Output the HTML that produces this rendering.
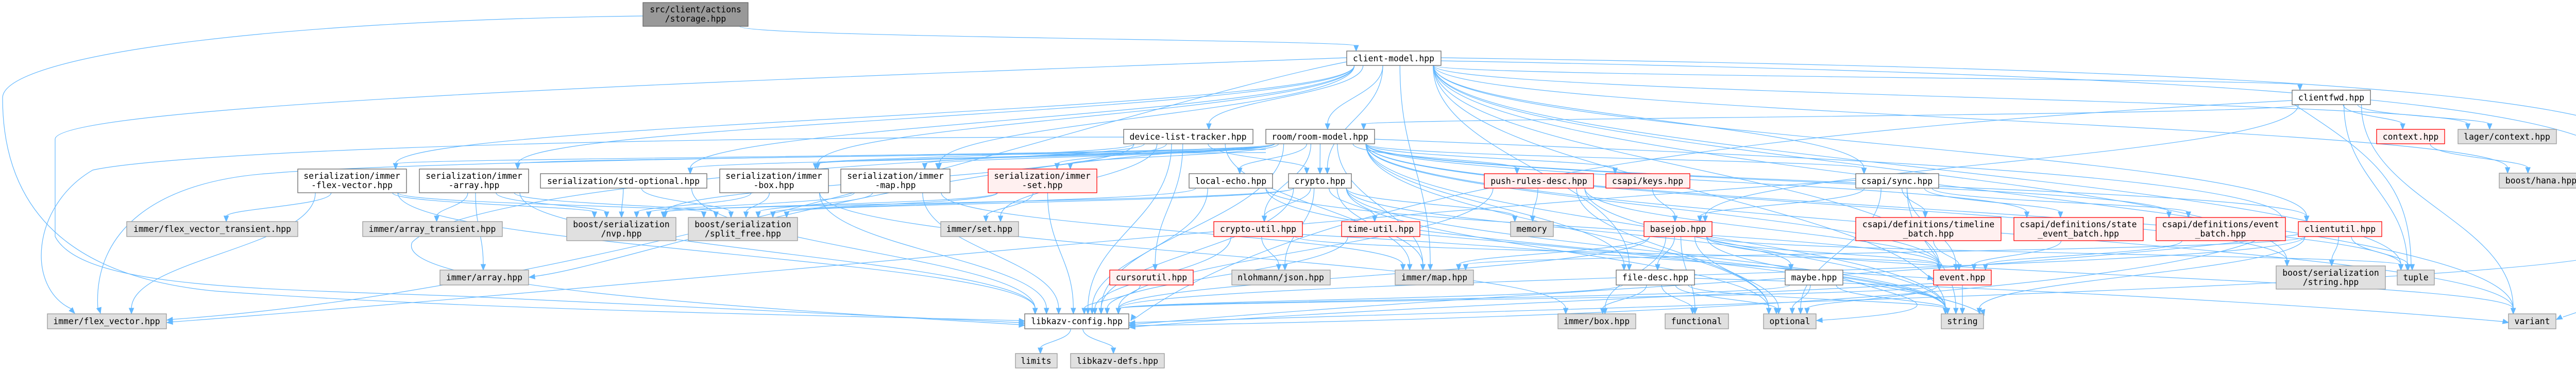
<!DOCTYPE html>
<html><head><meta charset="utf-8"><style>
html,body{margin:0;padding:0;background:#fff;}
svg{display:block;}
text{font-family:"DejaVu Sans Mono","Liberation Mono",monospace;font-size:16.4px;fill:#000;text-anchor:middle;}
</style></head><body>
<svg id="g" width="5157" height="716" xmlns="http://www.w3.org/2000/svg">
<g id="edges" fill="none" stroke="#63b8ff" stroke-width="1.2"></g>
<g id="arrows" fill="#63b8ff" stroke="#63b8ff"></g>
<g id="nodes" stroke-width="1.3">
<rect x="1248" y="5" width="204" height="46" fill="#999" stroke="#666"/><text x="1350" y="24">src/client/actions</text><text x="1350" y="42">/storage.hpp</text>
<rect x="2614" y="99" width="183" height="28" fill="#fff" stroke="#666"/><text x="2705" y="119">client-model.hpp</text>
<rect x="4449" y="175" width="152" height="28" fill="#fff" stroke="#666"/><text x="4525" y="195">clientfwd.hpp</text>
<rect x="2181" y="251" width="251" height="28" fill="#fff" stroke="#666"/><text x="2306" y="271">device-list-tracker.hpp</text>
<rect x="2457" y="251" width="211" height="28" fill="#fff" stroke="#666"/><text x="2562" y="271">room/room-model.hpp</text>
<rect x="4613" y="251" width="132" height="28" fill="#fff0f0" stroke="#f00"/><text x="4679" y="271">context.hpp</text>
<rect x="4771" y="251" width="191" height="28" fill="#e0e0e0" stroke="#999"/><text x="4866" y="271">lager/context.hpp</text>
<rect x="578" y="328" width="211" height="46" fill="#fff" stroke="#666"/><text x="683" y="347">serialization/immer</text><text x="683" y="365">-flex-vector.hpp</text>
<rect x="814" y="328" width="212" height="46" fill="#fff" stroke="#666"/><text x="920" y="347">serialization/immer</text><text x="920" y="365">-array.hpp</text>
<rect x="1049" y="337" width="323" height="28" fill="#fff" stroke="#666"/><text x="1210" y="357">serialization/std-optional.hpp</text>
<rect x="1397" y="328" width="211" height="46" fill="#fff" stroke="#666"/><text x="1502" y="347">serialization/immer</text><text x="1502" y="365">-box.hpp</text>
<rect x="1632" y="328" width="212" height="46" fill="#fff" stroke="#666"/><text x="1738" y="347">serialization/immer</text><text x="1738" y="365">-map.hpp</text>
<rect x="1918" y="328" width="211" height="46" fill="#fff0f0" stroke="#f00"/><text x="2023" y="347">serialization/immer</text><text x="2023" y="365">-set.hpp</text>
<rect x="2308" y="337" width="162" height="28" fill="#fff" stroke="#666"/><text x="2389" y="357">local-echo.hpp</text>
<rect x="2501" y="337" width="122" height="28" fill="#fff" stroke="#666"/><text x="2562" y="357">crypto.hpp</text>
<rect x="2881" y="337" width="212" height="28" fill="#fff0f0" stroke="#f00"/><text x="2987" y="357">push-rules-desc.hpp</text>
<rect x="3117" y="337" width="163" height="28" fill="#fff0f0" stroke="#f00"/><text x="3198" y="357">csapi/keys.hpp</text>
<rect x="3602" y="337" width="161" height="28" fill="#fff" stroke="#666"/><text x="3682" y="357">csapi/sync.hpp</text>
<rect x="4851" y="336" width="162" height="29" fill="#e0e0e0" stroke="#999"/><text x="4932" y="356">boost/hana.hpp</text>
<rect x="246" y="430" width="332" height="29" fill="#e0e0e0" stroke="#999"/><text x="412" y="450">immer/flex_vector_transient.hpp</text>
<rect x="704" y="430" width="271" height="29" fill="#e0e0e0" stroke="#999"/><text x="839" y="450">immer/array_transient.hpp</text>
<rect x="1100" y="422" width="212" height="45" fill="#e0e0e0" stroke="#999"/><text x="1206" y="441">boost/serialization</text><text x="1206" y="459">/nvp.hpp</text>
<rect x="1336" y="422" width="212" height="45" fill="#e0e0e0" stroke="#999"/><text x="1442" y="441">boost/serialization</text><text x="1442" y="459">/split_free.hpp</text>
<rect x="1826" y="430" width="151" height="29" fill="#e0e0e0" stroke="#999"/><text x="1901" y="450">immer/set.hpp</text>
<rect x="2356" y="430" width="172" height="29" fill="#fff0f0" stroke="#f00"/><text x="2442" y="450">crypto-util.hpp</text>
<rect x="2604" y="430" width="152" height="29" fill="#fff0f0" stroke="#f00"/><text x="2680" y="450">time-util.hpp</text>
<rect x="2932" y="430" width="83" height="29" fill="#e0e0e0" stroke="#999"/><text x="2973" y="450">memory</text>
<rect x="3191" y="430" width="132" height="29" fill="#fff0f0" stroke="#f00"/><text x="3257" y="450">basejob.hpp</text>
<rect x="3602" y="422" width="282" height="45" fill="#fff0f0" stroke="#f00"/><text x="3743" y="441">csapi/definitions/timeline</text><text x="3743" y="459">_batch.hpp</text>
<rect x="3909" y="422" width="251" height="45" fill="#fff0f0" stroke="#f00"/><text x="4034" y="441">csapi/definitions/state</text><text x="4034" y="459">_event_batch.hpp</text>
<rect x="4185" y="422" width="251" height="45" fill="#fff0f0" stroke="#f00"/><text x="4310" y="441">csapi/definitions/event</text><text x="4310" y="459">_batch.hpp</text>
<rect x="4461" y="430" width="162" height="29" fill="#fff0f0" stroke="#f00"/><text x="4542" y="450">clientutil.hpp</text>
<rect x="854" y="524" width="172" height="29" fill="#e0e0e0" stroke="#999"/><text x="940" y="544">immer/array.hpp</text>
<rect x="2154" y="524" width="162" height="29" fill="#fff0f0" stroke="#f00"/><text x="2235" y="544">cursorutil.hpp</text>
<rect x="2391" y="524" width="191" height="29" fill="#e0e0e0" stroke="#999"/><text x="2486" y="544">nlohmann/json.hpp</text>
<rect x="2708" y="524" width="152" height="29" fill="#e0e0e0" stroke="#999"/><text x="2784" y="544">immer/map.hpp</text>
<rect x="3137" y="524" width="152" height="29" fill="#fff" stroke="#666"/><text x="3213" y="544">file-desc.hpp</text>
<rect x="3465" y="524" width="112" height="29" fill="#fff" stroke="#666"/><text x="3521" y="544">maybe.hpp</text>
<rect x="3753" y="524" width="112" height="29" fill="#fff0f0" stroke="#f00"/><text x="3809" y="544">event.hpp</text>
<rect x="4418" y="516" width="212" height="45" fill="#e0e0e0" stroke="#999"/><text x="4524" y="535">boost/serialization</text><text x="4524" y="553">/string.hpp</text>
<rect x="4653" y="524" width="72" height="29" fill="#e0e0e0" stroke="#999"/><text x="4689" y="544">tuple</text>
<rect x="92" y="609" width="231" height="29" fill="#e0e0e0" stroke="#999"/><text x="207" y="629">immer/flex_vector.hpp</text>
<rect x="1989" y="609" width="202" height="29" fill="#fff" stroke="#666"/><text x="2090" y="629">libkazv-config.hpp</text>
<rect x="3024" y="609" width="151" height="29" fill="#e0e0e0" stroke="#999"/><text x="3099" y="629">immer/box.hpp</text>
<rect x="3232" y="609" width="123" height="29" fill="#e0e0e0" stroke="#999"/><text x="3293" y="629">functional</text>
<rect x="3423" y="609" width="102" height="29" fill="#e0e0e0" stroke="#999"/><text x="3474" y="629">optional</text>
<rect x="3768" y="609" width="82" height="29" fill="#e0e0e0" stroke="#999"/><text x="3809" y="629">string</text>
<rect x="4869" y="609" width="92" height="29" fill="#e0e0e0" stroke="#999"/><text x="4915" y="629">variant</text>
<rect x="1971" y="686" width="81" height="28" fill="#e0e0e0" stroke="#999"/><text x="2011" y="706">limits</text>
<rect x="2078" y="686" width="182" height="28" fill="#e0e0e0" stroke="#999"/><text x="2169" y="706">libkazv-defs.hpp</text>
</g>
</svg>
<script>
var N={root:[1248,5,1452,51],cm:[2614,99,2797,127],cfwd:[4449,175,4601,203],dlt:[2181,251,2432,279],rm:[2457,251,2668,279],ctx:[4613,251,4745,279],lctx:[4771,251,4962,279],sfv:[578,328,789,374],sar:[814,328,1026,374],sopt:[1049,337,1372,365],sbox:[1397,328,1608,374],smap:[1632,328,1844,374],sset:[1918,328,2129,374],lecho:[2308,337,2470,365],crypto:[2501,337,2623,365],prd:[2881,337,3093,365],keys:[3117,337,3280,365],sync:[3602,337,3763,365],hana:[4851,336,5013,365],ifvt:[246,430,578,459],iat:[704,430,975,459],nvp:[1100,422,1312,467],split:[1336,422,1548,467],iset:[1826,430,1977,459],cutil:[2356,430,2528,459],tutil:[2604,430,2756,459],mem:[2932,430,3015,459],bj:[3191,430,3323,459],tlb:[3602,422,3884,467],seb:[3909,422,4160,467],eb:[4185,422,4436,467],clu:[4461,430,4623,459],iarr:[854,524,1026,553],curs:[2154,524,2316,553],json:[2391,524,2582,553],imap:[2708,524,2860,553],fd:[3137,524,3289,553],maybe:[3465,524,3577,553],ev:[3753,524,3865,553],bss:[4418,516,4630,561],tuple:[4653,524,4725,553],ifv:[92,609,323,638],lkc:[1989,609,2191,638],ibox:[3024,609,3175,638],func:[3232,609,3355,638],opt:[3423,609,3525,638],str:[3768,609,3850,638],vr:[4869,609,4961,638],lim:[1971,686,2052,714],defs:[2078,686,2260,714]};
var E={
root:['cm'],
cm:['cfwd','dlt','rm','sfv','sar','sopt','sbox','smap','crypto','sync','lctx','hana','vr','str','tuple','fd','imap','bss','clu','ev'],
cfwd:['ctx','lctx','tuple','vr','rm','bj'],
ctx:['hana'],
dlt:['curs','crypto','sbox','smap','iset','imap','lkc','nvp','sset'],
rm:['sfv','sar','sopt','sbox','smap','sset','lecho','crypto','prd','keys','sync','clu','seb','eb','imap','ev','str','vr','tuple','opt','bss','fd','cutil','lkc'],
lecho:['lkc','split','str','ev'],
crypto:['cutil','tutil','json','mem','lkc','imap','maybe','opt','str','split','nvp'],
cutil:['json','lkc','ev'],
tutil:['lkc'],
prd:['mem','ev','lkc','str','opt'],
keys:['bj'],
sync:['bj','tlb','seb','eb','ev','str','opt'],
tlb:['ev'],seb:['ev'],eb:['ev'],
bj:['imap','fd','ibox','func','opt','str','ev','lkc','vr','tuple'],
fd:['ibox','func','opt','str','lkc'],
maybe:['opt','str','lkc'],
ev:['str','lkc','opt'],
clu:['bss','tuple','lkc','imap','str'],
curs:['lkc'],
lkc:['lim','defs'],
sfv:['ifvt','ifv','nvp','split','lkc'],
sar:['iat','iarr','nvp','split','lkc'],
sopt:['nvp','split','lkc'],
sbox:['nvp','split','lkc','ibox'],
smap:['nvp','split','lkc','imap'],
sset:['iset','nvp','split','lkc']
};
var eg=document.getElementById('edges'),ag=document.getElementById('arrows'),NS='http://www.w3.org/2000/svg';
function arrow(px,py,tx,ty){var dx=tx-px,dy=ty-py,l=Math.sqrt(dx*dx+dy*dy)||1;dx/=l;dy/=l;var bx=tx-dx*11,by=ty-dy*11;
var p=document.createElementNS(NS,'polygon');p.setAttribute('points',tx+','+ty+' '+(bx-dy*4.5)+','+(by+dx*4.5)+' '+(bx+dy*4.5)+','+(by-dx*4.5));ag.appendChild(p);}
function path(d){var p=document.createElementNS(NS,'path');p.setAttribute('d',d);eg.appendChild(p);}
for(var s in E){var a=N[s],acx=(a[0]+a[2])/2,aw=a[2]-a[0];var list=E[s];
list.forEach(function(t,i){var b=N[t],bcx=(b[0]+b[2])/2,bw=b[2]-b[0];
var sx=acx+Math.max(-aw*0.42,Math.min(aw*0.42,(bcx-acx)*0.15)),sy=a[3];
var tx=bcx+Math.max(-bw*0.4,Math.min(bw*0.4,(acx-bcx)*0.1)),ty=b[1];
if(b[1]<a[3]+10){sy=(a[1]+a[3])/2;sx=bcx>acx?a[2]:a[0];}
var dy=ty-sy;var c1y=sy+dy*0.45,c2y=ty-dy*0.45;
var c2x=tx;path('M'+sx+','+sy+' C'+sx+','+c1y+' '+c2x+','+c2y+' '+tx+','+(ty-10));arrow(tx,ty-20,tx,ty);});}
// long custom arcs
path('M1248,31 C500,40 5,110 5,190 L5,190 C5,420 150,540 420,565 C900,600 1500,610 1979,622');arrow(1960,621,1989,623);
path('M2614,112 C1600,150 107,200 107,270 L107,459 C160,560 500,560 900,575 C1400,600 1700,612 1979,626');arrow(1960,626,1989,627);
path('M2181,266 C1000,266 320,300 180,330 C60,400 50,560 140,600');arrow(130,592,145,608);
path('M2457,296 C1500,300 700,320 530,336 C300,350 180,450 190,600');arrow(190,590,195,608);
path('M2457,290 C1700,300 900,370 800,470 C760,560 1500,600 1979,630');arrow(1960,630,1989,631);
path('M2457,285 C1700,320 1200,520 1030,537');arrow(1045,536,1027,538);
path('M2614,120 C2200,200 1200,560 330,620');arrow(345,619,324,621);
path('M3602,350 C2800,400 1200,560 330,625');arrow(345,624,324,626);
path('M4449,195 C3200,260 2500,400 2200,620');arrow(2205,605,2195,622);
path('M2797,112 C4000,130 5150,160 5150,300 L5150,460 C5150,560 5050,590 4975,615');arrow(4985,608,4962,620);
path('M2797,118 C4000,140 5090,180 5090,330 L5090,480 C5090,550 3000,600 2192,626');arrow(2207,626,2192,627);
path('M4449,200 C4600,300 4680,350 4680,520');arrow(4682,508,4682,524);
path('M2668,270 C3400,300 4200,330 4400,400 C4550,460 4200,600 2192,632');arrow(2207,631,2192,632);
path('M3289,540 C4000,560 4600,600 4869,625');arrow(4855,623,4869,626);
path('M2528,455 C3000,480 3400,520 3753,540');arrow(3740,538,3753,541);
path('M3577,540 C3700,580 3850,600 3526,622');arrow(3540,621,3526,622);
path('M4461,455 C4000,520 3000,560 2192,630');arrow(2207,629,2192,630);
path('M3753,550 C3200,580 2600,600 2192,635');arrow(2207,634,2192,635);
path('M2756,455 C3300,500 3800,560 3850,612');arrow(3848,600,3851,612);
</script>
</body></html>
